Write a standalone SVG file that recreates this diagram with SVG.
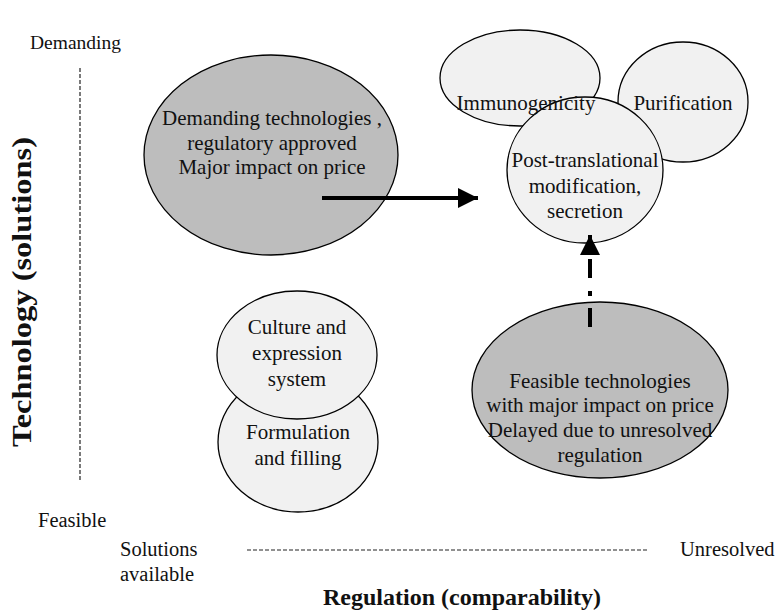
<svg xmlns="http://www.w3.org/2000/svg" width="778" height="613" viewBox="0 0 778 613">
<defs>
<marker id="ah" markerUnits="userSpaceOnUse" markerWidth="22" markerHeight="22" refX="20" refY="10" orient="auto" viewBox="0 0 22 22">
<path d="M0,0 L20,10 L0,20 Z" fill="#000"/>
</marker>
</defs>
<style>
.n{stroke:#000;stroke-width:1.3}
.d{fill:#bdbdbd}
.l{fill:#f1f1f1}
text{font-family:"Liberation Serif","Times New Roman",serif;fill:#111;}
.t{font-size:21px;text-anchor:middle}
.a{font-size:20.5px}
.b{font-size:24px;font-weight:bold;text-anchor:middle}
.ax{stroke:#222;stroke-width:1.2;stroke-dasharray:4 2;fill:none}
.c{stroke:#000;stroke-width:4;fill:none}
</style>
<g id="axes">
<line class="ax" x1="80" y1="68" x2="80" y2="482"/>
<line class="ax" x1="247" y1="550" x2="648" y2="550"/>
<text class="a" x="30" y="49" style="font-size:19.5px">Demanding</text>
<text class="a" x="38" y="527">Feasible</text>
<text class="a" x="120" y="556">Solutions</text>
<text class="a" x="120" y="581">available</text>
<text class="a" x="680" y="556">Unresolved</text>
<text class="b" x="462" y="605">Regulation (comparability)</text>
<text class="b" style="font-size:28px" transform="translate(31,292) rotate(-90)" textLength="310" lengthAdjust="spacingAndGlyphs">Technology (solutions)</text>
</g>
<g id="demanding-approved">
<ellipse class="n d" cx="271" cy="155" rx="127" ry="100"/>
<text class="t" x="272" y="125">Demanding technologies ,</text>
<text class="t" x="272" y="150">regulatory approved</text>
<text class="t" x="272" y="174">Major impact on price</text>
</g>
<g id="immunogenicity">
<ellipse class="n l" cx="520" cy="78" rx="80" ry="48"/>
</g>
<g id="purification">
<ellipse class="n l" cx="683" cy="102" rx="65" ry="60"/>
<text class="t" x="683" y="110">Purification</text>
</g>
<g id="post-translational">
<ellipse class="n l" cx="585" cy="170" rx="78" ry="73"/>
<text class="t" x="585" y="167">Post-translational</text>
<text class="t" x="585" y="193">modification,</text>
<text class="t" x="585" y="218">secretion</text>
</g>
<g id="immunogenicity-label">
<text class="t" x="526" y="110">Immunogenicity</text>
</g>
<g id="formulation">
<ellipse class="n l" cx="298" cy="442" rx="80" ry="70"/>
<text class="t" x="298" y="439">Formulation</text>
<text class="t" x="298" y="465">and filling</text>
</g>
<g id="culture">
<ellipse class="n l" cx="297" cy="355" rx="80" ry="64"/>
<text class="t" x="297" y="334">Culture and</text>
<text class="t" x="297" y="360">expression</text>
<text class="t" x="297" y="386">system</text>
</g>
<g id="feasible-delayed">
<ellipse class="n d" cx="600" cy="390" rx="128" ry="88"/>
<text class="t" x="600" y="388">Feasible technologies</text>
<text class="t" x="600" y="412">with major impact on price</text>
<text class="t" x="600" y="437">Delayed due to unresolved</text>
<text class="t" x="600" y="462">regulation</text>
</g>
<g id="connectors">
<line class="c" x1="322" y1="198" x2="478" y2="198" marker-end="url(#ah)"/>
<line class="c" x1="590" y1="327" x2="590" y2="235" stroke-dasharray="19 12 5 13 19 20" marker-end="url(#ah)"/>
</g>
</svg>
